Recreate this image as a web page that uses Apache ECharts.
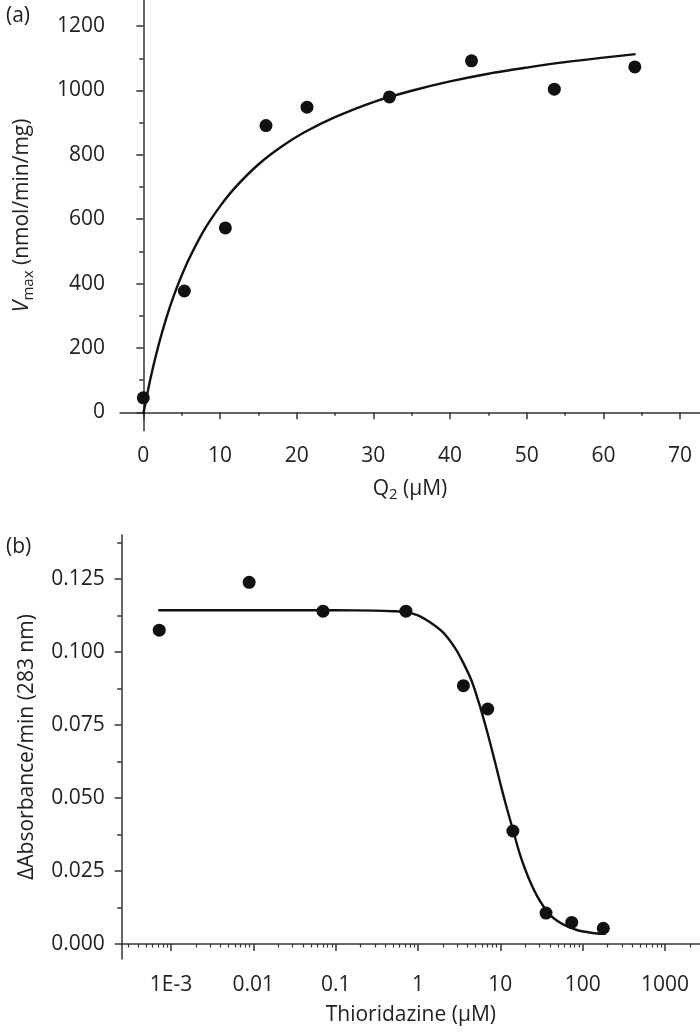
<!DOCTYPE html>
<html>
<head>
<meta charset="utf-8">
<script src="https://cdn.jsdelivr.net/npm/echarts@6/dist/echarts.min.js"></script>
<style>
html,body{margin:0;padding:0;background:#fff;}
#chart{width:700px;height:1034px;}
</style>
</head>
<body>
<div id="chart"></div>
<script>
// ---------- Panel (a) data ----------
const q2Conc = [0, 5.35, 10.7, 16.0, 21.35, 32.1, 42.8, 53.6, 64.1];
const vmaxVals = [45, 377, 573, 891, 948, 980, 1092, 1004, 1073];
const fitAX = [0, 1, 2, 3, 4, 5, 6, 8, 10, 12, 15, 18, 21, 25, 30, 35, 40, 45, 50, 55, 60, 64.2];
const fitAY = [-5, 112, 210, 293, 364, 425, 479, 569, 640, 699, 770, 825, 870, 917, 964, 999, 1028, 1052, 1071, 1088, 1102, 1113];
const xTicksA = [0, 10, 20, 30, 40, 50, 60, 70];
const xMinorA = [5, 15, 25, 35, 45, 55, 65];
const yTicksA = [0, 200, 400, 600, 800, 1000, 1200];
const yMinorA = [100, 300, 500, 700, 900, 1100];

// ---------- Panel (b) data ----------
const thioConc = [0.00072, 0.0089, 0.0702, 0.714, 3.56, 7.03, 14.2, 35.9, 73.6, 178];
const absVals = [0.1075, 0.1239, 0.1140, 0.1140, 0.0885, 0.0805, 0.0387, 0.0106, 0.0074, 0.0054];
const fitBX = [0.0007, 0.01, 0.1, 0.3, 0.5, 0.714, 1.0, 1.4, 2.0, 2.8, 3.56, 4.5, 5.6, 7.0, 8.5, 10, 12, 14.4, 17, 20, 24, 28, 33, 40, 50, 64, 85, 112, 150, 190];
const fitBY = [0.1143, 0.1143, 0.1143, 0.1142, 0.1140, 0.1137, 0.1126, 0.1102, 0.1068, 0.1015, 0.0962, 0.0900, 0.0818, 0.0722, 0.0630, 0.0550, 0.0465, 0.0386, 0.0314, 0.0256, 0.0202, 0.0164, 0.0131, 0.0100, 0.0078, 0.0061, 0.0048, 0.0041, 0.0036, 0.0035];
const xTicksB = [0.001, 0.01, 0.1, 1, 10, 100, 1000];
const xTickLabelsB = ['1E-3', '0.01', '0.1', '1', '10', '100', '1000'];
const yTicksB = [0, 0.025, 0.05, 0.075, 0.1, 0.125];
const yMinorB = [0.0125, 0.0375, 0.0625, 0.0875, 0.1125, 0.1375];

// minor ticks for log axis: 2..9 of each decade
const xMinorB = [];
for (let e = -4; e <= 3; e++) {
  for (let m = 2; m <= 9; m++) xMinorB.push(+(m * Math.pow(10, e)).toPrecision(3));
}

const FONT = 'Open Sans';
const TXT = '#222';
const AX = '#333';
const MARK = '#111';
const pairs = (xs, ys) => xs.map((x, i) => [x, ys[i]]);

const axisLineStyle = { show: true, lineStyle: { color: AX, width: 1.5 } };
const labelBase = { color: TXT, fontFamily: FONT, fontSize: 21 };

const xAMin = -3.04, xAMax = 72.6;
const yAMin = -57, yAMax = 1281;
const xBMin = 2.52e-4, xBMax = 2661;
const yBMin = -0.00514, yBMax = 0.1401;

const chart = echarts.init(document.getElementById('chart'), null, { renderer: 'canvas' });
const option = {
  backgroundColor: '#fff',
  animation: false,
  title: [
    { text: '(a)', left: 1, top: 1, textStyle: { fontFamily: FONT, fontSize: 21, fontWeight: 'normal', color: TXT } },
    { text: '(b)', left: 1, top: 532, textStyle: { fontFamily: FONT, fontSize: 21, fontWeight: 'normal', color: TXT } }
  ],
  grid: [
    { left: 120, right: 0, top: 0, height: 430.7 },
    { left: 121.7, right: 0, top: 535, height: 424 }
  ],
  xAxis: [
    {
      gridIndex: 0, type: 'value', min: xAMin, max: xAMax, position: 'bottom',
      axisLine: axisLineStyle,
      axisTick: { show: true, length: 7, customValues: xTicksA, lineStyle: { color: AX, width: 1.5 } },
      axisLabel: Object.assign({ customValues: xTicksA, margin: 15 }, labelBase),
      splitLine: { show: false },
      name: '{t|Q}{s|2}{t| (\u03bcM)}', nameLocation: 'middle', nameGap: 45,
      nameTextStyle: { rich: {
        t: { fontFamily: FONT, fontSize: 21, color: TXT, lineHeight: 27 },
        s: { fontFamily: FONT, fontSize: 15, color: TXT, verticalAlign: 'bottom', lineHeight: 18 }
      } }
    },
    {
      gridIndex: 0, type: 'value', min: xAMin, max: xAMax, position: 'bottom',
      axisLine: { show: false },
      axisTick: { show: true, length: 3.5, customValues: xMinorA, lineStyle: { color: AX, width: 1.5 } },
      axisLabel: { show: false }, splitLine: { show: false }
    },
    {
      gridIndex: 1, type: 'log', logBase: 10, min: xBMin, max: xBMax, position: 'bottom',
      axisLine: axisLineStyle,
      axisTick: { show: true, length: 7, customValues: xTicksB, lineStyle: { color: AX, width: 1.5 } },
      axisLabel: Object.assign({
        customValues: xTicksB, margin: 16,
        formatter: function (v) {
          let best = 0, bd = Infinity;
          xTicksB.forEach((t, i) => { const d = Math.abs(Math.log10(t) - Math.log10(v)); if (d < bd) { bd = d; best = i; } });
          return xTickLabelsB[best];
        }
      }, labelBase),
      splitLine: { show: false }, minorTick: { show: false },
      name: 'Thioridazine (\u03bcM)', nameLocation: 'middle', nameGap: 46,
      nameTextStyle: { fontFamily: FONT, fontSize: 21, color: TXT }
    },
    {
      gridIndex: 1, type: 'log', logBase: 10, min: xBMin, max: xBMax, position: 'bottom',
      axisLine: { show: false },
      axisTick: { show: true, length: 3.5, customValues: xMinorB, lineStyle: { color: AX, width: 1.2 } },
      axisLabel: { show: false }, splitLine: { show: false }
    }
  ],
  yAxis: [
    {
      gridIndex: 0, type: 'value', min: yAMin, max: yAMax, position: 'left',
      axisLine: axisLineStyle,
      axisTick: { show: true, length: 7, customValues: yTicksA, lineStyle: { color: AX, width: 1.5 } },
      axisLabel: Object.assign({ customValues: yTicksA, margin: 15, formatter: v => String(v) }, labelBase),
      splitLine: { show: false },
      name: '{i|V}{s|max}{t| (nmol/min/mg)}', nameLocation: 'middle', nameGap: 84,
      nameTextStyle: { rich: {
        t: { fontFamily: FONT, fontSize: 21, color: TXT, lineHeight: 27 },
        i: { fontFamily: FONT, fontSize: 21, color: TXT, fontStyle: 'italic', lineHeight: 27 },
        s: { fontFamily: FONT, fontSize: 15, color: TXT, verticalAlign: 'bottom', lineHeight: 18 }
      } }
    },
    {
      gridIndex: 0, type: 'value', min: yAMin, max: yAMax, position: 'left', offset: 0,
      axisLine: { show: false },
      axisTick: { show: true, length: 4, customValues: yMinorA, lineStyle: { color: AX, width: 1.5 } },
      axisLabel: { show: false }, splitLine: { show: false }
    },
    {
      gridIndex: 1, type: 'value', min: yBMin, max: yBMax, position: 'left',
      axisLine: axisLineStyle,
      axisTick: { show: true, length: 7, customValues: yTicksB, lineStyle: { color: AX, width: 1.5 } },
      axisLabel: Object.assign({ customValues: yTicksB, margin: 17, formatter: v => v.toFixed(3) }, labelBase),
      splitLine: { show: false },
      name: '\u0394Absorbance/min (283 nm)', nameLocation: 'middle', nameGap: 84,
      nameTextStyle: { fontFamily: FONT, fontSize: 21, color: TXT }
    },
    {
      gridIndex: 1, type: 'value', min: yBMin, max: yBMax, position: 'left', offset: 0,
      axisLine: { show: false },
      axisTick: { show: true, length: 4.5, customValues: yMinorB, lineStyle: { color: AX, width: 1.5 } },
      axisLabel: { show: false }, splitLine: { show: false }
    }
  ],
  series: [
    {
      type: 'line', xAxisIndex: 0, yAxisIndex: 0, data: pairs(fitAX, fitAY),
      showSymbol: false, smooth: 0.3, lineStyle: { color: MARK, width: 2.4 }, z: 2
    },
    {
      type: 'scatter', xAxisIndex: 0, yAxisIndex: 0, data: pairs(q2Conc, vmaxVals),
      symbol: 'circle', symbolSize: 13, itemStyle: { color: MARK, opacity: 1 }, z: 3
    },
    {
      type: 'line', xAxisIndex: 2, yAxisIndex: 2, data: pairs(fitBX, fitBY),
      showSymbol: false, smooth: 0.3, lineStyle: { color: MARK, width: 2.4 }, z: 2
    },
    {
      type: 'scatter', xAxisIndex: 2, yAxisIndex: 2, data: pairs(thioConc, absVals),
      symbol: 'circle', symbolSize: 13, itemStyle: { color: MARK, opacity: 1 }, z: 3
    }
  ]
};
chart.setOption(option);
</script>
</body>
</html>
